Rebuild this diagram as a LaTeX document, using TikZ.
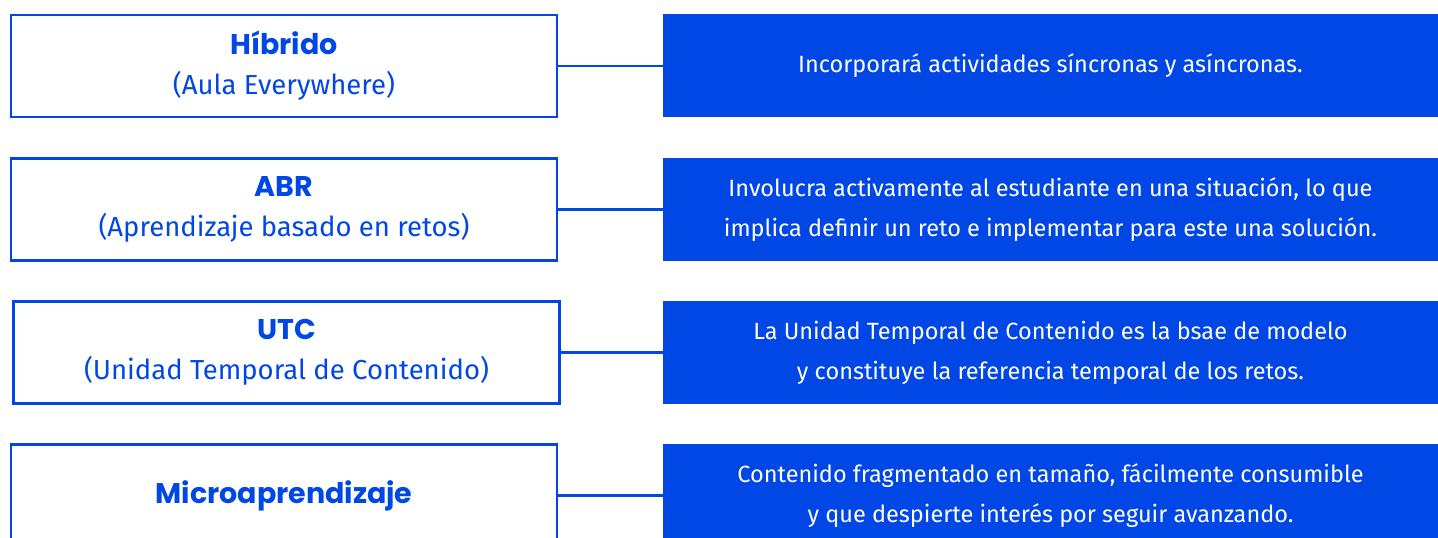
\documentclass[tikz,border=0pt]{standalone}
\usepackage{fontspec}
\setmainfont{Fira Sans}
\newfontfamily\headfont{Poppins}
\definecolor{mblue}{HTML}{0047E5}
\newcommand{\hd}[1]{{\headfont\bfseries\fontsize{28.5}{40}\selectfont #1}}
\begin{document}
\begin{tikzpicture}[x=1pt,y=1pt,
  leftbox/.style={draw=mblue, line width=2.5pt, minimum width=546pt, minimum height=102pt, inner sep=0pt, text=mblue, align=center, font=\fontsize{27.5}{40}\selectfont},
  rightbox/.style={fill=mblue, minimum width=775pt, minimum height=103pt, inner sep=0pt, text=white, align=center, font=\fontsize{23.5}{40}\selectfont},
  link/.style={draw=mblue, line width=2.5pt}]
\useasboundingbox (0,0) rectangle (1438,538);
\clip (0,0) rectangle (1438,538);
% row 1
\node[leftbox] (l1) at (284,472) {\hd{Híbrido}\\(Aula Everywhere)};
\node[rightbox] (r1) at (1050.5,472) {Incorporará actividades síncronas y asíncronas.};
% row 2
\node[leftbox] (l2) at (284,328.5) {\hd{ABR}\\(Aprendizaje basado en retos)};
\node[rightbox] (r2) at (1050.5,328.5) {Involucra activamente al estudiante en una situación, lo que\\implica definir un reto e implementar para este una solución.};
% row 3
\node[leftbox] (l3) at (286.5,185.5) {\hd{UTC}\\(Unidad Temporal de Contenido)};
\node[rightbox] (r3) at (1050.5,185.5) {La Unidad Temporal de Contenido es la bsae de modelo\\y constituye la referencia temporal de los retos.};
% row 4
\node[leftbox] (l4) at (284,42.5) {\hd{Microaprendizaje}};
\node[rightbox] (r4) at (1050.5,42.5) {Contenido fragmentado en tamaño, fácilmente consumible\\y que despierte interés por seguir avanzando.};
% connectors
\draw[link] (l1.east) -- (r1.west);
\draw[link] (l2.east) -- (r2.west);
\draw[link] (l3.east) -- (r3.west);
\draw[link] (l4.east) -- (r4.west);
\end{tikzpicture}
\end{document}
